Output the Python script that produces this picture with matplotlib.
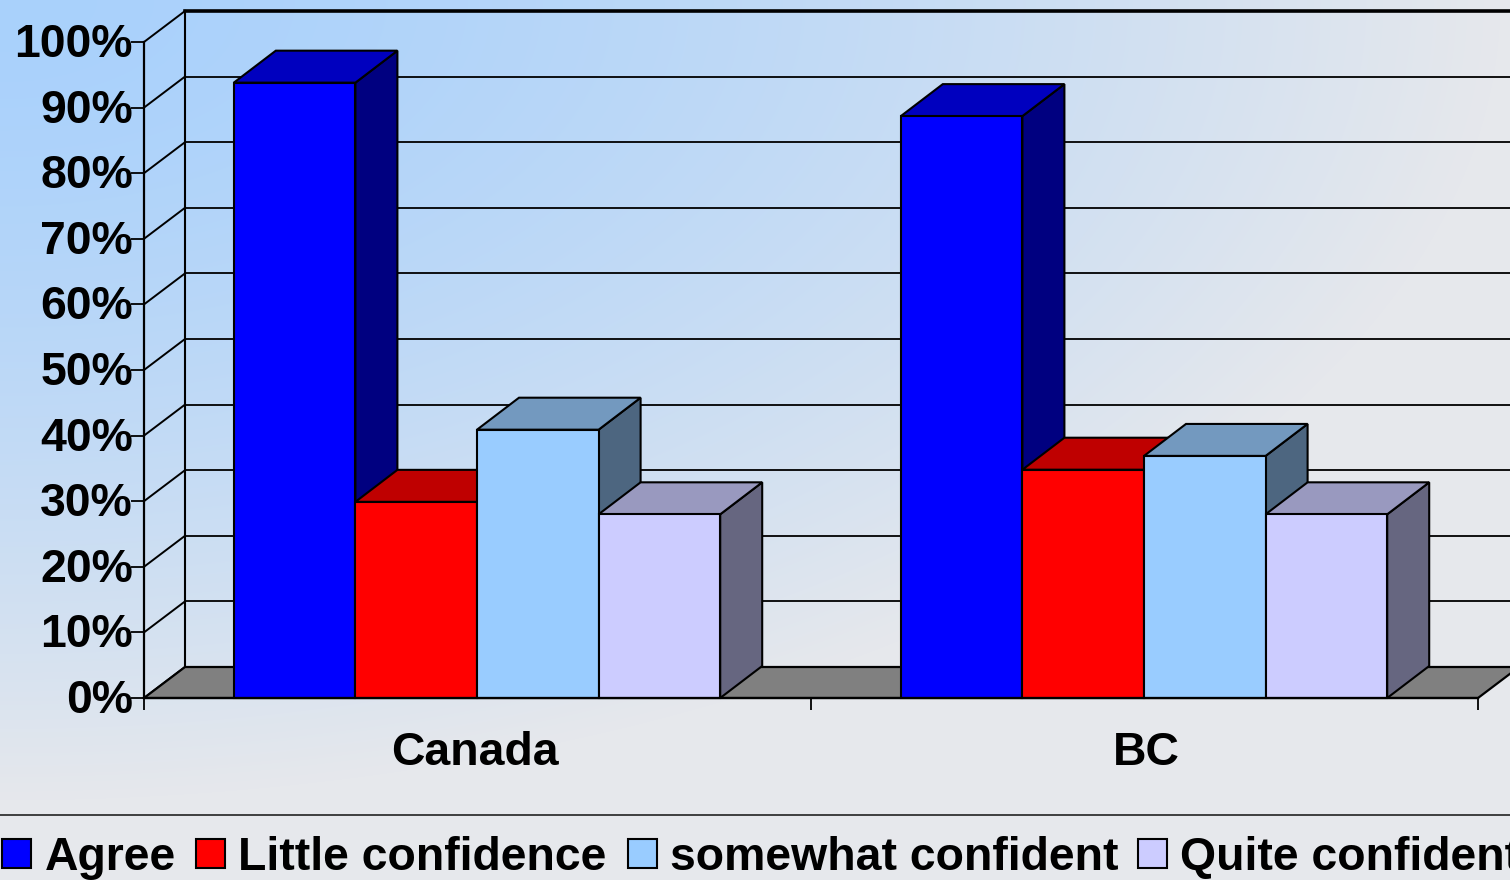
import numpy as np
import matplotlib
matplotlib.use("Agg")
import matplotlib.pyplot as plt
from matplotlib.patches import Polygon, Rectangle
from matplotlib.transforms import ScaledTranslation

plt.rcParams['font.family'] = ['Liberation Sans', 'DejaVu Sans']

categories = ["Canada", "BC"]
series = ["Agree", "Little confidence", "somewhat confident", "Quite confident"]
agree = [93.8, 88.7]
little = [29.9, 34.8]
somewhat = [40.9, 36.9]
quite = [28, 28]
tick_labels = ["0%", "10%", "20%", "30%", "40%", "50%", "60%", "70%", "80%", "90%", "100%"]

front_colors = ["#0000FF", "#FF0000", "#99CCFF", "#CCCCFF"]
top_colors = ["#0000BF", "#BF0000", "#7399BF", "#9999BF"]
side_colors = ["#000080", "#800000", "#4D6680", "#666680"]

W, H = 1510, 880
fig = plt.figure(figsize=(W / 100, H / 100), dpi=100)

# background gradient, light blue from the top left corner
bg = fig.add_axes([0, 0, 1, 1], zorder=0)
yy, xx = np.mgrid[0:H, 0:W]
t = np.clip(np.sqrt((xx / 1500) ** 2 + (yy / 800) ** 2), 0, 1)[..., None] ** 1.5
start = np.array([0xA9, 0xD1, 0xFC]) / 255
end = np.array([0xE6, 0xE8, 0xEC]) / 255
bg.imshow(start + (end - start) * t, extent=[0, W, H, 0], aspect="auto")
bg.set_xlim(0, W)
bg.set_ylim(H, 0)
bg.axis("off")

# separator and legend, in pixel coords
bg.plot([0, W], [815, 815], color="#222222", lw=1.2)
legend_box_x = [2, 196, 628, 1138]
legend_text_x = [45, 238, 670, 1180]
for i, name in enumerate(series):
    bg.add_patch(Rectangle((legend_box_x[i], 839), 29, 29, fc=front_colors[i], ec="black", lw=1.5))
    bg.text(legend_text_x[i], 870, name, fontsize=33.4, fontweight="bold", va="baseline", ha="left", color="black")

# main axes = front plane of the 3d box
ax = fig.add_axes([144 / W, (H - 698) / H, (1478 - 144) / W, (698 - 42) / H], zorder=1)
ax.patch.set_alpha(0)
ax.set_xlim(0, 2)
ax.set_ylim(0, 100)
dx = 41 / 667
dy = 31 / 6.56
bar_dx = 42 / 667
bar_dy = 32 / 6.56

for s in ["top", "right"]:
    ax.spines[s].set_visible(False)
for s in ["left", "bottom"]:
    ax.spines[s].set_linewidth(1.6)
    ax.spines[s].set_zorder(50)

ax.set_yticks(range(0, 101, 10))
ax.set_yticklabels(tick_labels, fontsize=33.4, fontweight="bold")
ax.tick_params(axis="y", length=9.5, width=1.3, pad=-1.5)
# labels sit 2 px higher than matplotlib centres them
for lab in ax.get_yticklabels():
    lab.set_transform(lab.get_transform() + ScaledTranslation(0, 2 / 100, fig.dpi_scale_trans))
ax.set_xticks([0, 1, 2])
ax.set_xticklabels([])
ax.tick_params(axis="x", which="major", length=8.5, width=1.3)
ax.set_xticks([0.4965, 1.503], minor=True)
ax.set_xticklabels(categories, minor=True, fontsize=33.4, fontweight="bold")
ax.tick_params(axis="x", which="minor", length=0, pad=24)

# floor
ax.add_patch(Polygon([(0, 0), (dx, dy), (2 + dx, dy), (2, 0)], closed=True, fc="#808080", ec="black",
                     lw=1.6, clip_on=False, zorder=2))

# back wall lines
for v in range(0, 101, 10):
    ax.plot([0, dx], [v, v + dy], color="black", lw=1.4, clip_on=False, zorder=1)
    lw = 2.6 if v == 100 else 1.3
    ax.plot([dx, 2 + dx], [v + dy, v + dy], color="black", lw=lw, clip_on=False, zorder=1)
ax.plot([dx, dx], [dy, 100 + dy], color="black", lw=1.5, clip_on=False, zorder=1)

# bars, left to right so each one covers the side of the one before
bar_w = 121.6 / 667
left_gap = 89.8 / 667
values = [agree, little, somewhat, quite]
z = 3
for c in range(len(categories)):
    for i in range(len(series)):
        v = values[i][c]
        x0 = c + left_gap + i * bar_w
        x1 = x0 + bar_w
        ax.add_patch(Polygon([(x1, 0), (x1 + bar_dx, bar_dy), (x1 + bar_dx, v + bar_dy), (x1, v)], closed=True,
                             fc=side_colors[i], ec="black", lw=1.5, clip_on=False, zorder=z))
        ax.add_patch(Polygon([(x0, v), (x0 + bar_dx, v + bar_dy), (x1 + bar_dx, v + bar_dy), (x1, v)], closed=True,
                             fc=top_colors[i], ec="black", lw=1.5, clip_on=False, zorder=z))
        ax.bar(x0, v, width=bar_w, align="edge", color=front_colors[i], edgecolor="black", lw=1.5,
               clip_on=False, zorder=z)
        z += 1

fig.savefig("out.png", dpi=100)
